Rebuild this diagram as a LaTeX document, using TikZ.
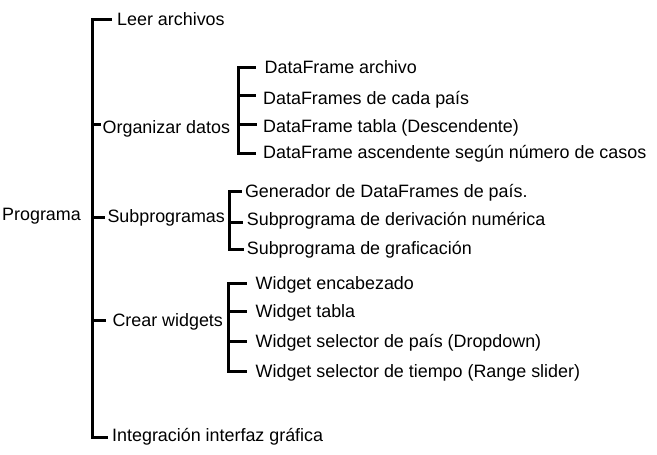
\documentclass[tikz,border=0pt]{standalone}
\usepackage{fontspec}
\setmainfont{Liberation Sans}
\begin{document}
\begin{tikzpicture}[x=1pt,y=-1pt,
  lbl/.style={anchor=base west,inner sep=0pt,font=\fontsize{17.9}{20}\selectfont},
  spine/.style={line width=3pt,line cap=rect},
  tick/.style={line width=3pt,line cap=butt}]
\useasboundingbox (0,0) rectangle (657,455);
% texts
\node[lbl] (prog)  at (2,220.7)     {Programa};
\node[lbl] (leer)  at (117,25.5)    {Leer archivos};
\node[lbl] (org)   at (102.5,133.5) {Organizar datos};
\node[lbl] (sub)   at (107.3,222.7) {Subprogramas};
\node[lbl] (crear) at (112.3,326)   {Crear widgets};
\node[lbl] (integ) at (112,441.7)   {Integración interfaz gráfica};
\node[lbl] (df1) at (264.5,74)    {DataFrame archivo};
\node[lbl] (df2) at (263,104.3)   {DataFrames de cada país};
\node[lbl] (df3) at (263,132.7)   {DataFrame tabla (Descendente)};
\node[lbl] (df4) at (263,158.3)   {DataFrame ascendente según número de casos};
\node[lbl] (gen)   at (244.8,197.3) {Generador de DataFrames de país.};
\node[lbl] (sder)  at (246.7,225.7) {Subprograma de derivación numérica};
\node[lbl] (sgraf) at (246.7,254)   {Subprograma de graficación};
\node[lbl] (w1) at (255.5,289.3) {Widget encabezado};
\node[lbl] (w2) at (255.5,317.3) {Widget tabla};
\node[lbl] (w3) at (255.5,347.3) {Widget selector de país (Dropdown)};
\node[lbl] (w4) at (255.5,377.3) {Widget selector de tiempo (Range slider)};
% spine points
\coordinate (m1) at (92.5,19.8);
\coordinate (m2) at (92.5,124.2);
\coordinate (m3) at (92.5,217.2);
\coordinate (m4) at (92.5,320.5);
\coordinate (m5) at (92.5,437.2);
\coordinate (b1) at (238.8,67.5);
\coordinate (b2) at (238.8,95.5);
\coordinate (b3) at (238.8,124.2);
\coordinate (b4) at (238.8,153.5);
\coordinate (c1) at (229.8,191.5);
\coordinate (c2) at (229.8,222.7);
\coordinate (c3) at (229.8,249.2);
\coordinate (d1) at (228.8,283.2);
\coordinate (d2) at (228.8,311.7);
\coordinate (d3) at (228.8,341.7);
\coordinate (d4) at (228.8,371.7);
% spines
\draw[spine] (m1) -- (m5);
\draw[spine] (b1) -- (b4);
\draw[spine] (c1) -- (c3);
\draw[spine] (d1) -- (d4);
% ticks
\draw[tick,shorten >=4.7pt] (m1) -- (m1 -| leer.west);
\draw[tick,shorten >=1.8pt] (m2) -- (m2 -| org.west);
\draw[tick,shorten >=2.8pt] (m3) -- (m3 -| sub.west);
\draw[tick,shorten >=6.3pt] (m4) -- (m4 -| crear.west);
\draw[tick,shorten >=4.5pt] (m5) -- (m5 -| integ.west);
\draw[tick,shorten >=8.5pt] (b1) -- (b1 -| df1.west);
\draw[tick,shorten >=7pt] (b2) -- (b2 -| df2.west);
\draw[tick,shorten >=6pt] (b3) -- (b3 -| df3.west);
\draw[tick,shorten >=7pt] (b4) -- (b4 -| df4.west);
\draw[tick,shorten >=3.1pt] (c1) -- (c1 -| gen.west);
\draw[tick,shorten >=3.7pt] (c2) -- (c2 -| sder.west);
\draw[tick,shorten >=2.4pt] (c3) -- (c3 -| sgraf.west);
\draw[tick,shorten >=8.2pt] (d1) -- (d1 -| w1.west);
\draw[tick,shorten >=8.2pt] (d2) -- (d2 -| w2.west);
\draw[tick,shorten >=8.2pt] (d3) -- (d3 -| w3.west);
\draw[tick,shorten >=8.2pt] (d4) -- (d4 -| w4.west);
\end{tikzpicture}
\end{document}
